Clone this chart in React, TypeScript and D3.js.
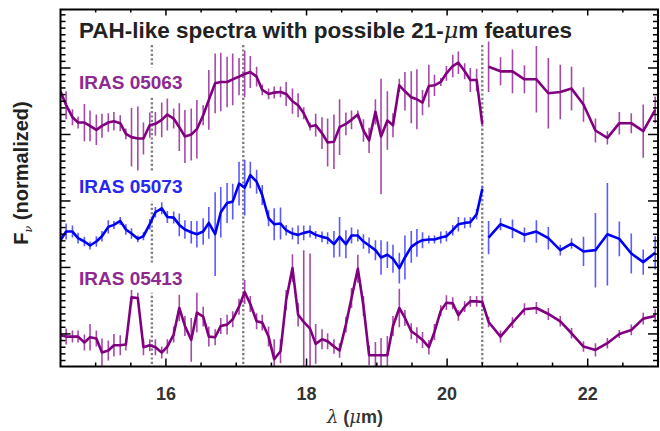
import React from 'react';
import * as d3 from 'd3';

const W = 660;
const H = 431;

// wavelength grids (micron)
const lambdaShort = [
  14.50, 14.58, 14.67, 14.75, 14.84, 14.92, 15.01, 15.09, 15.18, 15.26,
  15.35, 15.43, 15.51, 15.60, 15.68, 15.77, 15.85, 15.94, 16.02, 16.11,
  16.19, 16.27, 16.36, 16.44, 16.53, 16.61, 16.70, 16.78, 16.87, 16.95,
  17.04, 17.12, 17.20, 17.29, 17.37, 17.46, 17.54, 17.63, 17.71, 17.80,
  17.88, 17.96, 18.05, 18.13, 18.22, 18.30, 18.39, 18.47, 18.56, 18.64,
  18.73, 18.81, 18.89, 18.98, 19.06, 19.15, 19.23, 19.32, 19.40, 19.49,
  19.57, 19.65, 19.74, 19.82, 19.91, 19.99, 20.08, 20.16, 20.25, 20.33,
  20.42, 20.50,
];
const lambdaLong = [20.59, 20.76, 20.93, 21.10, 21.27, 21.44, 21.61, 21.77, 21.94, 22.11, 22.28, 22.45, 22.62, 22.79, 22.96];

// IRAS 05063
const flux05063Short = [
  3.65, 3.44, 3.26, 3.18, 3.18, 3.13, 3.07, 3.13, 3.18, 3.20,
  3.17, 3.01, 2.96, 2.94, 2.94, 3.14, 3.16, 3.22, 3.30, 3.24,
  3.11, 2.97, 3.00, 3.08, 3.29, 3.52, 3.77, 3.79, 3.79, 3.83,
  3.87, 3.91, 3.94, 3.87, 3.67, 3.61, 3.63, 3.64, 3.61, 3.50,
  3.44, 3.32, 3.12, 3.14, 3.02, 2.88, 2.89, 3.11, 3.16, 3.22,
  3.30, 3.06, 2.91, 3.34, 2.97, 3.21, 3.14, 3.74, 3.65, 3.56,
  3.53, 3.48, 3.73, 3.74, 3.79, 3.92, 4.03, 4.08, 3.95, 3.82,
  3.82, 3.16,
];
const err05063Short = [
  0.12, 0.21, 0.12, 0.09, 0.28, 0.23, 0.23, 0.18, 0.14, 0.14,
  0.12, 0.08, 0.44, 0.48, 0.24, 0.19, 0.18, 0.26, 0.24, 0.15,
  0.36, 0.40, 0.39, 0.44, 0.15, 0.45, 0.45, 0.44, 0.38, 0.39,
  0.28, 0.35, 0.24, 0.15, 0.08, 0.08, 0.09, 0.08, 0.18, 0.19,
  0.18, 0.09, 0.06, 0.17, 0.24, 0.36, 0.41, 0.42, 0.17, 0.14,
  0.06, 0.17, 0.19, 0.19, 0.87, 0.44, 0.18, 0.10, 0.29, 0.39,
  0.45, 0.19, 0.32, 0.16, 0.06, 0.11, 0.17, 0.17, 0.12, 0.18,
  0.17, 0.03,
];
const flux05063Long = [4.02, 3.95, 3.95, 3.83, 3.83, 3.62, 3.64, 3.69, 3.45, 3.06, 2.95, 3.17, 3.17, 3.05, 3.37];
const err05063Long = [0.38, 0.21, 0.33, 0.21, 0.50, 0.53, 0.41, 0.33, 0.26, 0.18, 0.10, 0.17, 0.15, 0.40, 0.20];

// IRAS 05073
const flux05073Short = [
  1.41, 1.54, 1.54, 1.44, 1.39, 1.33, 1.39, 1.47, 1.61, 1.64,
  1.70, 1.57, 1.51, 1.43, 1.47, 1.65, 1.83, 1.89, 1.76, 1.75,
  1.64, 1.57, 1.53, 1.50, 1.54, 1.67, 1.50, 1.83, 1.97, 1.99,
  2.26, 2.20, 2.39, 2.29, 2.09, 1.74, 1.65, 1.66, 1.56, 1.51,
  1.49, 1.52, 1.54, 1.49, 1.46, 1.44, 1.35, 1.46, 1.35, 1.48,
  1.48, 1.39, 1.33, 1.26, 1.15, 1.19, 1.13, 0.99, 1.15, 1.31,
  1.37, 1.41, 1.42, 1.42, 1.45, 1.47, 1.56, 1.65, 1.67, 1.68,
  1.80, 2.18,
];
const err05073Short = [
  0.09, 0.12, 0.09, 0.08, 0.07, 0.06, 0.08, 0.08, 0.10, 0.06,
  0.06, 0.08, 0.08, 0.05, 0.06, 0.08, 0.08, 0.09, 0.09, 0.09,
  0.17, 0.14, 0.17, 0.20, 0.20, 0.24, 0.63, 0.38, 0.30, 0.27,
  0.33, 0.42, 0.20, 0.18, 0.15, 0.12, 0.24, 0.24, 0.08, 0.09,
  0.14, 0.11, 0.09, 0.06, 0.08, 0.09, 0.20, 0.30, 0.21, 0.12,
  0.09, 0.11, 0.12, 0.15, 0.26, 0.20, 0.21, 0.23, 0.33, 0.24,
  0.21, 0.12, 0.06, 0.06, 0.09, 0.08, 0.08, 0.11, 0.08, 0.08,
  0.08, 0.05,
];
const flux05073Long = [1.45, 1.65, 1.58, 1.49, 1.54, 1.44, 1.26, 1.36, 1.24, 1.26, 1.50, 1.43, 1.21, 1.08, 1.22];
const err05073Long = [0.25, 0.09, 0.14, 0.11, 0.17, 0.17, 0.08, 0.08, 0.22, 0.56, 0.77, 0.26, 0.30, 0.19, 0.25];

// IRAS 05413
const flux05413Short = [
  -0.02, -0.04, -0.04, -0.04, -0.13, -0.05, -0.07, -0.28, -0.25, -0.17,
  -0.17, -0.16, 0.55, 0.54, -0.20, -0.17, -0.20, -0.28, -0.19, -0.01,
  0.39, 0.12, -0.09, 0.32, 0.26, -0.04, -0.05, 0.12, 0.14, 0.22,
  0.41, 0.63, 0.45, 0.19, 0.17, -0.04, -0.38, -0.26, 0.51, 0.99,
  0.29, 0.18, 0.08, -0.15, -0.08, -0.11, -0.19, -0.25, 0.14, 0.54,
  0.98, 0.42, -0.32, -0.32, -0.32, -0.32, 0.12, 0.39, 0.24, 0.04,
  -0.02, -0.09, -0.20, 0.03, 0.35, 0.47, 0.46, 0.28, 0.41, 0.49,
  0.49, 0.48,
];
const err05413Short = [
  0.08, 0.12, 0.09, 0.09, 0.12, 0.20, 0.12, 0.21, 0.15, 0.17,
  0.15, 0.09, 0.11, 0.08, 0.12, 0.09, 0.12, 0.09, 0.11, 0.12,
  0.20, 0.15, 0.33, 0.30, 0.15, 0.15, 0.12, 0.12, 0.15, 0.12,
  0.12, 0.18, 0.12, 0.12, 0.12, 0.15, 0.30, 0.18, 0.15, 0.21,
  0.18, 1.08, 1.13, 0.30, 0.15, 0.12, 0.11, 0.11, 0.12, 0.15,
  0.21, 0.15, 0.15, 0.20, 0.26, 0.29, 0.15, 0.29, 0.12, 0.12,
  0.12, 0.12, 0.11, 0.12, 0.08, 0.11, 0.09, 0.08, 0.08, 0.08,
  0.08, 0.08,
];
const flux05413Long = [0.18, -0.04, 0.17, 0.37, 0.39, 0.30, 0.19, 0.01, -0.19, -0.24, -0.14, 0.00, 0.06, 0.23, 0.27];
const err05413Long = [0.08, 0.09, 0.08, 0.09, 0.09, 0.09, 0.08, 0.08, 0.08, 0.10, 0.08, 0.06, 0.08, 0.09, 0.10];

const seriesNames = ['IRAS 05063', 'IRAS 05073', 'IRAS 05413'];
const labelFlux = [3.68, 2.12, 0.74]; // label baselines in data units
const markerLambdas = [15.8, 17.1, 20.5];
const xTickLabels = [16, 18, 20, 22];

type Pt = { l: number; f: number; e: number };

function zip(ls: number[], fs: number[], es: number[]): Pt[] {
  return ls.map((l, i) => ({ l, f: fs[i], e: es[i] }));
}

const series = [
  {
    name: seriesNames[0], color: '#800080', errColor: '#A54AA8', labelColor: '#8E2A90', joined: false,
    short: zip(lambdaShort, flux05063Short, err05063Short), long: zip(lambdaLong, flux05063Long, err05063Long),
  },
  {
    name: seriesNames[1], color: '#0000F5', errColor: '#5A5AFF', labelColor: '#2828F0', joined: false,
    short: zip(lambdaShort, flux05073Short, err05073Short), long: zip(lambdaLong, flux05073Long, err05073Long),
  },
  {
    name: seriesNames[2], color: '#800080', errColor: '#A54AA8', labelColor: '#8E2A90', joined: true,
    short: zip(lambdaShort, flux05413Short, err05413Short), long: zip(lambdaLong, flux05413Long, err05413Long),
  },
];

export default function App() {
  const left = 60.5, right = 658, top = 9.5, bottom = 366.5;
  const x = d3.scaleLinear().domain([14.5, 23]).range([left, right]);
  const y = d3.scaleLinear().domain([-0.49, 4.88]).range([bottom, top]);
  const line = d3.line<Pt>().x(d => x(d.l)).y(d => y(d.f));

  const xMinor = d3.range(15, 23, 0.5);
  const yTicks = d3.range(-4, 49).map(v => v / 10);
  const font = "'Liberation Sans', Arial, Helvetica, sans-serif";
  const serif = "'DejaVu Serif', serif";

  return (
    <svg width={W} height={H} style={{ position: 'absolute', left: 0, top: 0, background: '#fff' }} fontFamily={font}>
      <defs>
        <clipPath id="plot"><rect x={left} y={top} width={right - left} height={bottom - top} /></clipPath>
      </defs>

      {/* dotted marker lines */}
      {markerLambdas.map((m, i) => (
        <line key={i} x1={x(m)} x2={x(m)} y1={45} y2={bottom} stroke="#808080" strokeWidth={2.4} strokeDasharray="2.2,2.2" />
      ))}

      {/* label backgrounds */}
      {series.map((s, i) => (
        <rect key={i} x={76} y={y(labelFlux[i]) - 22} width={112} height={30} fill="#fff" />
      ))}

      <g clipPath="url(#plot)">
        {series.map((s, si) => {
          const all = s.short.concat(s.long);
          return (
            <g key={si}>
              {all.map((p, i) => (
                <line key={i} x1={x(p.l)} x2={x(p.l)} y1={y(p.f - p.e)} y2={y(p.f + p.e)} stroke={s.errColor} strokeWidth={1.6} />
              ))}
              {s.joined ? (
                <path d={line(all) || ''} fill="none" stroke={s.color} strokeWidth={2.6} strokeLinejoin="round" />
              ) : (
                <>
                  <path d={line(s.short) || ''} fill="none" stroke={s.color} strokeWidth={2.6} strokeLinejoin="round" />
                  <path d={line(s.long) || ''} fill="none" stroke={s.color} strokeWidth={2.6} strokeLinejoin="round" />
                </>
              )}
            </g>
          );
        })}
      </g>

      {/* series labels */}
      {series.map((s, i) => (
        <text key={i} x={79} y={y(labelFlux[i])} fontSize={19} fontWeight="bold" fill={s.labelColor}>{s.name}</text>
      ))}

      {/* frame */}
      <rect x={left} y={top} width={right - left} height={bottom - top} fill="none" stroke="#000" strokeWidth={2} />

      {/* x ticks */}
      {xMinor.map((t, i) => {
        const major = t % 2 === 0;
        return (
          <g key={i}>
            <line x1={x(t)} x2={x(t)} y1={bottom} y2={bottom - (major ? 8 : 4)} stroke="#000" strokeWidth={1.5} />
            <line x1={x(t)} x2={x(t)} y1={top} y2={top + (major ? 6 : 3)} stroke="#000" strokeWidth={1.5} />
          </g>
        );
      })}
      {/* y ticks */}
      {yTicks.map((t, i) => {
        const major = Math.abs(t - Math.round(t)) < 1e-6;
        return (
          <g key={i}>
            <line x1={left} x2={left + (major ? 10 : 5)} y1={y(t)} y2={y(t)} stroke="#000" strokeWidth={1.5} />
            <line x1={right} x2={right - (major ? 10 : 5)} y1={y(t)} y2={y(t)} stroke="#000" strokeWidth={1.5} />
          </g>
        );
      })}

      {xTickLabels.map((t, i) => (
        <text key={i} x={x(t)} y={400} textAnchor="middle" fontSize={18} fontWeight="bold" fill="#333">{t}</text>
      ))}

      {/* axis titles */}
      <text x={355} y={423} textAnchor="middle" fontSize={18} fontWeight="bold" fill="#333">
        <tspan fontStyle="italic" fontFamily={serif} fontWeight="normal">λ</tspan> (<tspan fontStyle="italic" fontFamily={serif} fontWeight="normal">μ</tspan>m)
      </text>
      <text transform="translate(28,173) rotate(-90)" textAnchor="middle" fontSize={20} fontWeight="bold" fill="#222">
        F<tspan fontSize={11} dy={4} fontStyle="italic" fontFamily={serif} fontWeight="normal">ν</tspan><tspan dy={-4}> (normalized)</tspan>
      </text>

      {/* title */}
      <text x={79} y={38} fontSize={22.5} fontWeight="bold" fill="#222">
        PAH-like spectra with possible 21-<tspan fontStyle="italic" fontFamily={serif} fontWeight="normal">μ</tspan>m features
      </text>
    </svg>
  );
}
